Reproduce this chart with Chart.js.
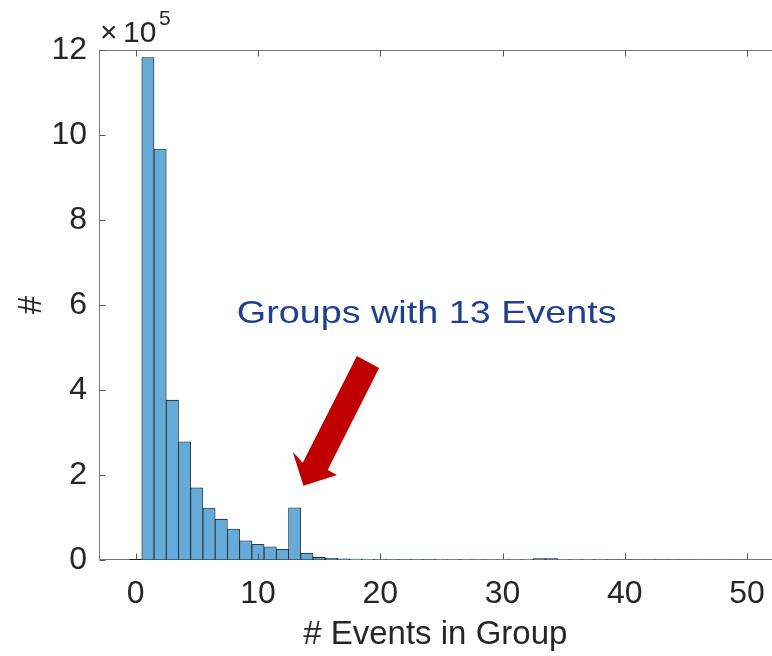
<!DOCTYPE html>
<html>
<head>
<meta charset="utf-8">
<script src="https://cdn.jsdelivr.net/npm/chart.js@4.4.1/dist/chart.umd.min.js"></script>
<style>
  html, body { margin: 0; padding: 0; background: #fff; overflow: hidden; }
  canvas { display: block; }
</style>
</head>
<body>
<canvas id="hist" width="780" height="656"></canvas>
<script>
// Group-size histogram: one bin per integer number of events (bins centred on integers)
const binCenters = [
  0, 1, 2, 3, 4, 5, 6, 7, 8, 9,
  10, 11, 12, 13, 14, 15, 16, 17, 18, 19,
  20, 21, 22, 23, 24, 25, 26, 27, 28, 29,
  30, 31, 32, 33, 34, 35, 36, 37, 38, 39,
  40, 41, 42, 43, 44, 45, 46, 47, 48, 49
];
const groupCounts = [
  0, 1182000, 967000, 376000, 278000, 170000, 122000, 96000, 73000, 45000,
  37000, 31000, 25000, 123000, 16000, 6000, 4000, 2500, 2000, 1500,
  1200, 1000, 900, 800, 700, 600, 600, 500, 500, 400,
  400, 400, 400, 3500, 3500, 300, 300, 250, 250, 200,
  200, 200, 150, 150, 150, 100, 100, 100, 100, 100
];
const xTickValues = [0, 10, 20, 30, 40, 50];
const yTickValues = [0, 200000, 400000, 600000, 800000, 1000000, 1200000];
const yExponent = 5;
const xLabel = '# Events in Group';
const yLabel = '#';
const calloutText = 'Groups with 13 Events';

const FONT = "'Liberation Sans', Arial, Helvetica, sans-serif";
const INK = '#262626';

// Axis lines (left, bottom, top) with inward-pointing ticks, exponent label and the callout
const axesBox = {
  id: 'axesBox',
  beforeDatasetsDraw(chart) {
    const { ctx, chartArea: a } = chart;
    const L = Math.round(a.left) + 0.5, T = Math.round(a.top) + 0.5;
    const R = a.right + 10, B = Math.round(a.bottom) - 0.5;
    ctx.save();
    ctx.strokeStyle = '#7a7a7a';
    ctx.lineWidth = 1;
    ctx.beginPath();
    ctx.moveTo(R, T); ctx.lineTo(L, T); ctx.lineTo(L, B); ctx.lineTo(R, B);
    ctx.stroke();
    ctx.restore();
  },
  afterDatasetsDraw(chart) {
    const { ctx, chartArea: a, scales: { x, y } } = chart;
    const L = Math.round(a.left) + 0.5, T = Math.round(a.top) + 0.5;
    const B = Math.round(a.bottom) - 0.5;
    const tl = 6;
    ctx.save();

    // empty first bin drawn as a flat outline on the baseline
    const meta = chart.getDatasetMeta(0);
    ctx.strokeStyle = '#1e1e1e';
    ctx.lineWidth = 1;
    meta.data.forEach((bar, i) => {
      if (groupCounts[i] === 0) {
        ctx.beginPath();
        ctx.moveTo(bar.x - bar.width / 2, B);
        ctx.lineTo(bar.x + bar.width / 2, B);
        ctx.stroke();
      }
    });

    ctx.strokeStyle = '#555';
    ctx.beginPath();
    x.ticks.forEach(t => {
      const px = Math.round(x.getPixelForValue(t.value)) + 0.5;
      ctx.moveTo(px, B); ctx.lineTo(px, B - tl);
      ctx.moveTo(px, T); ctx.lineTo(px, T + tl);
    });
    y.ticks.forEach(t => {
      const py = Math.round(y.getPixelForValue(t.value)) + 0.5;
      ctx.moveTo(L, py); ctx.lineTo(L + tl, py);
    });
    ctx.stroke();

    // ×10^5 above the y axis
    ctx.fillStyle = INK;
    ctx.textBaseline = 'alphabetic';
    ctx.textAlign = 'left';
    ctx.font = `30px ${FONT}`;
    ctx.fillText('\u00d7', a.left + 1, a.top - 8);
    ctx.fillText('10', a.left + 24, a.top - 8);
    ctx.font = `21px ${FONT}`;
    ctx.fillText(String(yExponent), a.left + 60, a.top - 25);

    // callout text
    const tx = x.getPixelForValue(23.8), ty = y.getPixelForValue(5.57e5);
    ctx.save();
    ctx.translate(tx, ty);
    ctx.scale(1.18, 1);
    ctx.fillStyle = '#203f8f';
    ctx.font = `32px ${FONT}`;
    ctx.textAlign = 'center';
    ctx.fillText(calloutText, 0, 0);
    ctx.restore();

    // callout arrow (outline given in data units)
    const arrow = [
      [18.09, 4.80e5], [19.91, 4.52e5], [15.70, 2.12e5], [16.46, 2.00e5],
      [13.72, 1.75e5], [12.84, 2.55e5], [13.66, 2.29e5]
    ];
    ctx.fillStyle = '#c00000';
    ctx.beginPath();
    arrow.forEach(([vx, vy], i) => {
      const px = x.getPixelForValue(vx), py = y.getPixelForValue(vy);
      if (i === 0) ctx.moveTo(px, py); else ctx.lineTo(px, py);
    });
    ctx.closePath();
    ctx.fill();
    ctx.restore();
  }
};

new Chart(document.getElementById('hist'), {
  type: 'bar',
  data: {
    datasets: [{
      data: binCenters.map((c, i) => ({ x: c, y: groupCounts[i] })),
      backgroundColor: '#66aad7',
      borderColor: '#1e1e1e',
      borderWidth: 0.8,
      borderSkipped: false,
      barPercentage: 1,
      categoryPercentage: 1
    }]
  },
  options: {
    responsive: false,
    animation: false,
    devicePixelRatio: 1,
    layout: { padding: { left: 0, right: 3, top: 50, bottom: 0 } },
    plugins: { legend: { display: false }, tooltip: { enabled: false } },
    scales: {
      x: {
        type: 'linear',
        min: -3,
        max: 52,
        offset: false,
        grid: { display: false, drawTicks: false },
        border: { display: false },
        afterBuildTicks: s => { s.ticks = xTickValues.map(v => ({ value: v })); },
        afterFit: s => { s.height = 96; },
        ticks: { font: { family: FONT, size: 32 }, color: INK, padding: 15, maxRotation: 0, autoSkip: false },
        title: { display: true, text: xLabel, font: { family: FONT, size: 33 }, color: INK, padding: { top: 0, bottom: 1 } }
      },
      y: {
        min: 0,
        max: 1200000,
        grid: { display: false, drawTicks: false },
        border: { display: false },
        afterBuildTicks: s => { s.ticks = yTickValues.map(v => ({ value: v })); },
        afterFit: s => { s.width = 99; },
        ticks: {
          font: { family: FONT, size: 32 }, color: INK, padding: 12,
          callback: v => String(v / Math.pow(10, yExponent))
        },
        title: { display: true, text: yLabel, font: { family: FONT, size: 33 }, color: INK, padding: { top: 12, bottom: 0 } }
      }
    }
  },
  plugins: [axesBox]
});
</script>
</body>
</html>
